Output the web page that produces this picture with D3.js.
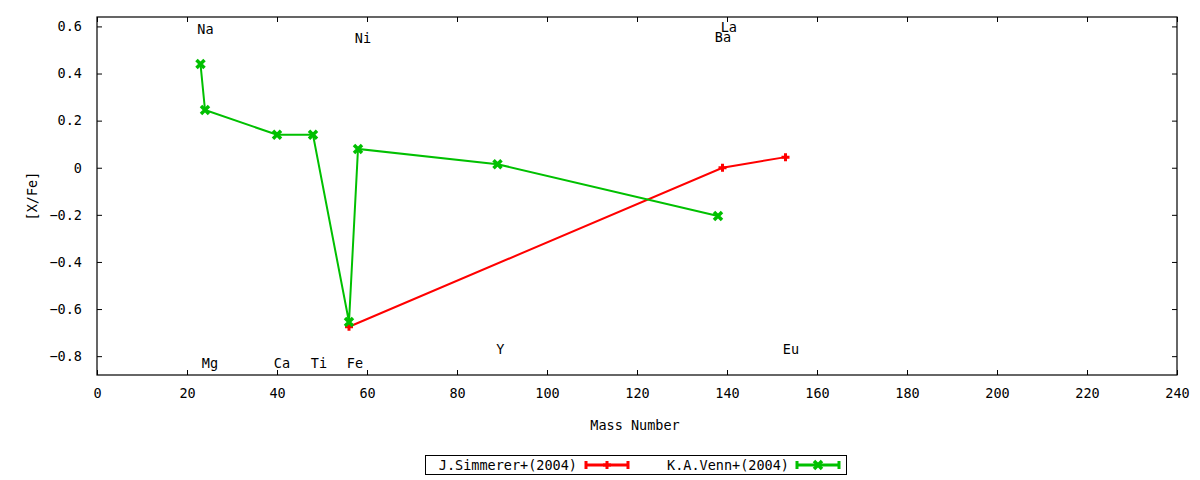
<!DOCTYPE html>
<html>
<head>
<meta charset="utf-8">
<script src="https://cdn.jsdelivr.net/npm/d3@7"></script>
<style>
  body { margin: 0; background: #fff; }
  text { font-family: "DejaVu Sans Mono", monospace; font-size: 13.5px; fill: #000; }
</style>
</head>
<body>
<script>
const width = 1200;
const height = 480;
const margin = { top: 17, right: 23, bottom: 105, left: 97 };

// J.Simmerer+(2004)
const simmererMass = [56, 139, 153];
const simmererXFe = [-0.675, 0.0, 0.045];

// K.A.Venn+(2004)
const vennMass = [23, 24, 40, 48, 56, 58, 89, 138];
const vennXFe = [0.44, 0.245, 0.14, 0.14, -0.655, 0.08, 0.015, -0.205];

// element labels
const elemNames = ['Na', 'Mg', 'Ca', 'Ti', 'Fe', 'Ni', 'Y', 'Ba', 'La', 'Eu'];
const elemMass = [22.3, 23.3, 39.3, 47.5, 55.5, 57.3, 88.7, 137.3, 138.6, 152.4];
const elemY = [0.59, -0.83, -0.83, -0.83, -0.83, 0.55, -0.77, 0.555, 0.595, -0.77];

const xTicks = d3.range(0, 241, 20);
const yTicks = [-0.8, -0.6, -0.4, -0.2, 0, 0.2, 0.4, 0.6];

const svg = d3.select('body').append('svg')
  .attr('width', width)
  .attr('height', height);

const x = d3.scaleLinear()
  .domain([0, 240])
  .range([margin.left, width - margin.right]);

const y = d3.scaleLinear()
  .domain([-0.88, 0.64])
  .range([height - margin.bottom, margin.top]);

const tickLen = 5;

// axes (ticks inward, mirrored)
svg.append('g')
  .attr('transform', `translate(0,${y.range()[0]})`)
  .call(d3.axisBottom(x).tickValues(xTicks).tickSize(-tickLen).tickPadding(13).tickFormat(d3.format('d')))
  .call(g => g.select('.domain').remove());
svg.append('g')
  .attr('transform', `translate(0,${y.range()[1]})`)
  .call(d3.axisTop(x).tickValues(xTicks).tickSize(-tickLen).tickFormat(''))
  .call(g => g.select('.domain').remove());
svg.append('g')
  .attr('transform', `translate(${x.range()[0]},0)`)
  .call(d3.axisLeft(y).tickValues(yTicks).tickSize(-tickLen).tickPadding(15).tickFormat(d => d === 0 ? '0' : d3.format('.1f')(d)))
  .call(g => g.select('.domain').remove());
svg.append('g')
  .attr('transform', `translate(${x.range()[1]},0)`)
  .call(d3.axisRight(y).tickValues(yTicks).tickSize(-tickLen).tickFormat(''))
  .call(g => g.select('.domain').remove());

svg.selectAll('.tick text').attr('font-family', null).attr('font-size', null);
svg.selectAll('.tick line').attr('stroke', '#000');

svg.append('rect')
  .attr('x', x.range()[0])
  .attr('y', y.range()[1])
  .attr('width', x.range()[1] - x.range()[0])
  .attr('height', y.range()[0] - y.range()[1])
  .attr('fill', 'none')
  .attr('stroke', '#000')
  .attr('stroke-width', 1.2);

// axis titles
svg.append('text')
  .attr('x', 635)
  .attr('y', 430)
  .attr('text-anchor', 'middle')
  .text('Mass Number');

svg.append('text')
  .attr('transform', 'translate(37,196) rotate(-90)')
  .attr('text-anchor', 'middle')
  .text('[X/Fe]');

// element labels
svg.append('g')
  .selectAll('text')
  .data(elemNames)
  .join('text')
  .attr('x', (d, i) => x(elemMass[i]))
  .attr('y', (d, i) => y(elemY[i]))
  .attr('dy', '0.35em')
  .text(d => d);

const red = '#ff0000';
const green = '#00c000';

const line = d3.line().x(d => x(d[0])).y(d => y(d[1]));

function plus(g, cx, cy, color) {
  g.append('path')
    .attr('d', `M${cx - 4},${cy}H${cx + 4}M${cx},${cy - 4}V${cy + 4}`)
    .attr('stroke', color)
    .attr('stroke-width', 3);
}

function cross(g, cx, cy, color) {
  g.append('path')
    .attr('d', `M${cx - 4},${cy - 4}L${cx + 4},${cy + 4}M${cx - 4},${cy + 4}L${cx + 4},${cy - 4}`)
    .attr('stroke', color)
    .attr('stroke-width', 3.5);
}

const simData = simmererMass.map((m, i) => [m, simmererXFe[i]]);
const vennData = vennMass.map((m, i) => [m, vennXFe[i]]);

svg.append('path')
  .datum(simData)
  .attr('d', line)
  .attr('fill', 'none')
  .attr('stroke', red)
  .attr('stroke-width', 2);

const simMarks = svg.append('g');
simData.forEach(d => plus(simMarks, x(d[0]), y(d[1]), red));

svg.append('path')
  .datum(vennData)
  .attr('d', line)
  .attr('fill', 'none')
  .attr('stroke', green)
  .attr('stroke-width', 2);

const vennMarks = svg.append('g');
vennData.forEach(d => cross(vennMarks, x(d[0]), y(d[1]), green));

// legend
const legend = svg.append('g');
legend.append('rect')
  .attr('x', 425.5)
  .attr('y', 455.5)
  .attr('width', 421)
  .attr('height', 19)
  .attr('fill', 'none')
  .attr('stroke', '#000');

const legendItems = [
  { label: 'J.Simmerer+(2004)', color: red, mark: plus, textEnd: 577, x0: 586, x1: 628 },
  { label: 'K.A.Venn+(2004)', color: green, mark: cross, textEnd: 789, x0: 797, x1: 839 }
];

legendItems.forEach(it => {
  const cy = 465;
  legend.append('text')
    .attr('x', it.textEnd)
    .attr('y', cy)
    .attr('dy', '0.35em')
    .attr('text-anchor', 'end')
    .text(it.label);
  legend.append('path')
    .attr('d', `M${it.x0},${cy}H${it.x1}M${it.x0},${cy - 4}V${cy + 4}M${it.x1},${cy - 4}V${cy + 4}`)
    .attr('stroke', it.color)
    .attr('stroke-width', 3);
  it.mark(legend, (it.x0 + it.x1) / 2, cy, it.color);
});
</script>
</body>
</html>
